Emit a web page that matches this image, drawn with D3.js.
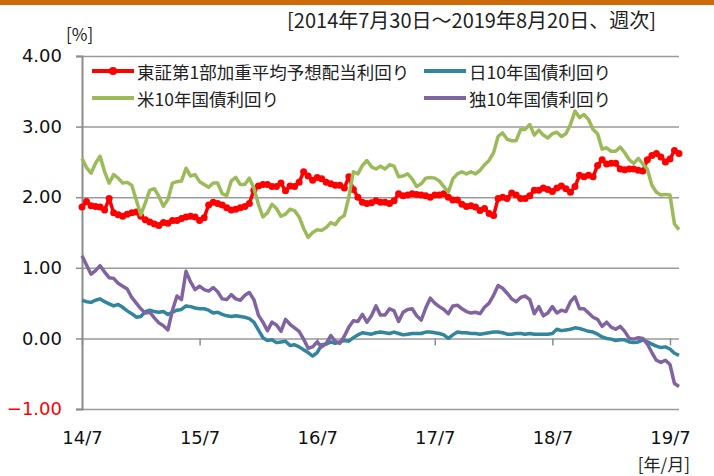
<!DOCTYPE html>
<html>
<head>
<meta charset="utf-8">
<script src="https://cdn.jsdelivr.net/npm/d3@7"></script>
<style>
  body { margin: 0; background: #fff; }
  svg { display: block; }
</style>
</head>
<body>
<div id="chart"></div>
<script>
// values every other week, first point 2014/7/30
var startDate = "2014-07-30";
var stepDays = 14;

var tickDates = ["2014-07-30", "2015-07-29", "2016-07-27", "2017-07-26", "2018-07-25", "2019-07-24"];
var tickLabels = ["14/7", "15/7", "16/7", "17/7", "18/7", "19/7"];
var yTicks = [4, 3, 2, 1, 0, -1];

var seriesNames = ["東証第1部加重平均予想配当利回り", "日10年国債利回り", "米10年国債利回り", "独10年国債利回り"];

var topixYield = [1.86,1.94,1.88,1.87,1.86,1.82,1.98,1.78,1.75,1.73,
  1.76,1.78,1.79,1.73,1.68,1.65,1.62,1.60,1.64,1.63,
  1.67,1.67,1.70,1.72,1.73,1.72,1.67,1.71,1.89,1.93,
  1.91,1.89,1.85,1.82,1.83,1.85,1.87,1.91,2.10,2.16,
  2.18,2.18,2.15,2.15,2.20,2.09,2.16,2.15,2.21,2.36,
  2.30,2.24,2.28,2.26,2.21,2.19,2.17,2.17,2.13,2.29,
  2.11,2.00,1.93,1.91,1.92,1.95,1.93,1.93,1.91,1.95,
  2.05,2.02,2.03,2.05,2.04,2.03,2.02,2.00,2.03,2.03,
  2.05,2.00,1.96,1.96,1.90,1.87,1.88,1.86,1.81,1.84,
  1.77,1.74,1.98,2.00,1.98,2.06,2.03,1.98,1.98,2.02,
  2.10,2.10,2.13,2.11,2.08,2.13,2.16,2.12,2.07,2.15,
  2.31,2.29,2.31,2.29,2.45,2.53,2.47,2.48,2.48,2.40,
  2.39,2.40,2.40,2.38,2.37,2.53,2.59,2.62,2.57,2.50,
  2.54,2.66,2.62];

var jpYield = [0.54,0.52,0.51,0.54,0.56,0.52,0.49,0.46,0.48,0.44,
  0.39,0.35,0.30,0.31,0.38,0.40,0.38,0.37,0.38,0.34,
  0.37,0.40,0.41,0.46,0.45,0.43,0.42,0.42,0.40,0.36,
  0.37,0.34,0.32,0.31,0.32,0.31,0.30,0.28,0.23,0.12,
  0.01,-0.03,-0.02,-0.06,-0.05,-0.04,-0.10,-0.09,-0.12,-0.16,
  -0.20,-0.25,-0.20,-0.09,-0.08,-0.05,-0.07,-0.05,-0.03,-0.04,
  0.01,0.05,0.08,0.07,0.06,0.08,0.09,0.08,0.07,0.09,
  0.07,0.05,0.06,0.07,0.07,0.07,0.09,0.09,0.08,0.07,
  0.05,0.00,0.05,0.09,0.08,0.08,0.07,0.07,0.06,0.07,
  0.08,0.09,0.09,0.08,0.06,0.06,0.07,0.07,0.06,0.07,
  0.06,0.06,0.06,0.06,0.07,0.13,0.11,0.12,0.13,0.15,
  0.14,0.12,0.10,0.09,0.06,0.02,0.00,-0.01,-0.03,-0.02,
  -0.02,-0.05,-0.06,-0.05,-0.02,-0.05,-0.08,-0.11,-0.13,-0.12,
  -0.15,-0.21,-0.24];

var usYield = [2.55,2.42,2.34,2.48,2.58,2.36,2.20,2.32,2.27,2.20,
  2.21,2.17,1.96,1.75,1.92,2.10,2.12,2.01,1.87,1.97,
  2.20,2.22,2.23,2.41,2.30,2.32,2.22,2.18,2.14,2.20,
  2.20,2.05,2.02,2.23,2.28,2.18,2.18,2.27,2.13,1.90,
  1.72,1.78,1.90,1.84,1.73,1.76,1.83,1.81,1.72,1.56,
  1.43,1.50,1.54,1.53,1.57,1.64,1.61,1.70,1.74,2.00,
  2.36,2.33,2.45,2.52,2.43,2.40,2.44,2.40,2.46,2.44,
  2.29,2.30,2.33,2.26,2.15,2.19,2.27,2.28,2.27,2.23,
  2.15,2.07,2.26,2.33,2.36,2.33,2.36,2.33,2.38,2.46,
  2.52,2.63,2.86,2.91,2.82,2.80,2.80,2.96,2.96,3.03,
  2.88,2.95,2.88,2.84,2.90,2.92,2.86,2.90,3.03,3.22,
  3.13,3.17,3.10,2.96,2.90,2.68,2.70,2.65,2.65,2.71,
  2.63,2.53,2.48,2.55,2.47,2.40,2.17,2.07,2.03,2.04,
  2.03,1.62,1.54];

var deYield = [1.17,1.04,0.91,0.96,1.03,0.94,0.86,0.85,0.78,0.74,
  0.70,0.58,0.50,0.42,0.36,0.37,0.29,0.22,0.18,0.12,
  0.40,0.60,0.55,0.95,0.80,0.69,0.74,0.69,0.67,0.72,
  0.66,0.56,0.55,0.62,0.56,0.54,0.61,0.65,0.55,0.33,
  0.23,0.11,0.23,0.19,0.10,0.27,0.20,0.15,0.10,-0.01,
  -0.14,-0.12,-0.05,-0.12,-0.07,0.04,-0.04,-0.07,0.03,0.16,
  0.25,0.24,0.34,0.23,0.32,0.46,0.33,0.33,0.42,0.39,
  0.24,0.37,0.41,0.42,0.32,0.26,0.43,0.57,0.50,0.45,
  0.41,0.35,0.46,0.47,0.42,0.38,0.36,0.37,0.35,0.44,
  0.50,0.61,0.75,0.71,0.64,0.56,0.52,0.58,0.60,0.55,
  0.35,0.45,0.32,0.36,0.45,0.36,0.40,0.38,0.52,0.59,
  0.42,0.42,0.36,0.30,0.27,0.17,0.23,0.16,0.13,0.17,
  0.10,0.00,-0.01,0.01,0.00,-0.08,-0.20,-0.31,-0.34,-0.31,
  -0.37,-0.64,-0.68];

var colors = ["#ff0000", "#31859c", "#9bbb59", "#8064a2"];

// dimensions
var W = 714, H = 476;
var margin = {top: 56, right: 35, bottom: 67, left: 82},
    width = W - margin.left - margin.right,
    height = H - margin.top - margin.bottom;

var parse = d3.timeParse("%Y-%m-%d");
var t0 = parse(startDate);
var dates = d3.range(topixYield.length).map(function(i) { return d3.timeDay.offset(t0, i * stepDays); });

var x = d3.scaleTime().domain([dates[0], dates[dates.length - 1]]).range([0, width]);
var y = d3.scaleLinear().domain([-1, 4]).range([height, 0]);

var svg = d3.select("#chart").append("svg")
    .attr("width", W).attr("height", H);

// orange bar on top
svg.append("rect").attr("x", 0).attr("y", 0).attr("width", W).attr("height", 5).attr("fill", "#cc6a0a");

svg.append("text").attr("x", 656).attr("y", 28).attr("text-anchor", "end")
    .style("font-family", "'Noto Sans CJK JP'").style("font-size", "20px").attr("fill", "#222")
    .text("[2014年7月30日～2019年8月20日、週次]");
svg.append("text").attr("x", 66).attr("y", 41)
    .style("font-family", "'Noto Sans CJK JP'").style("font-size", "17px").attr("fill", "#222")
    .text("[%]");
svg.append("text").attr("x", 690).attr("y", 471).attr("text-anchor", "end")
    .style("font-family", "'Noto Sans CJK JP'").style("font-size", "17px").attr("fill", "#222")
    .text("[年/月]");

var g = svg.append("g").attr("transform", "translate(" + margin.left + "," + margin.top + ")");

// gridlines
g.append("g").attr("class", "grid")
    .call(d3.axisLeft(y).tickValues(yTicks).tickSize(-width).tickFormat(""))
    .call(function(s) {
        s.select(".domain").remove();
        s.selectAll("line").attr("stroke", "#9a9a9a").attr("stroke-width", 1.5);
    });

// y axis
g.append("g")
    .call(d3.axisLeft(y).tickValues(yTicks).tickSize(6).tickPadding(14).tickFormat(d3.format(".2f")))
    .call(function(s) {
        s.select(".domain").attr("stroke", "#8c8c8c").attr("stroke-width", 2);
        s.selectAll("line").attr("stroke", "#8c8c8c").attr("stroke-width", 1.5);
        s.selectAll("text").style("font-family", "'DejaVu Sans'").style("font-size", "18px")
            .attr("fill", function(d) { return d < 0 ? "#ff0000" : "#111"; });
    });

// x axis ticks on the zero line
g.append("g").attr("transform", "translate(0," + y(0) + ")")
    .call(d3.axisBottom(x).tickValues(tickDates.map(parse)).tickSize(7).tickFormat(""))
    .call(function(s) {
        s.select(".domain").remove();
        s.selectAll("line").attr("stroke", "#8c8c8c").attr("stroke-width", 1.5);
    });

// x labels under the plot
g.append("g").attr("transform", "translate(0," + height + ")")
    .call(d3.axisBottom(x).tickValues(tickDates.map(parse)).tickSize(0).tickPadding(22)
        .tickFormat(function(d, i) { return tickLabels[i]; }))
    .call(function(s) {
        s.select(".domain").remove();
        s.selectAll("text").style("font-family", "'DejaVu Sans'").style("font-size", "18px").attr("fill", "#111");
    });

// lines
var allSeries = [topixYield, jpYield, usYield, deYield];
var line = d3.line()
    .x(function(d, i) { return x(dates[i]); })
    .y(function(d) { return y(d); });

allSeries.forEach(function(vals, k) {
    g.append("path").datum(vals)
        .attr("fill", "none")
        .attr("stroke", colors[k])
        .attr("stroke-width", 3.5)
        .attr("stroke-linejoin", "round")
        .attr("d", line);
    if (k === 0) {
        g.selectAll(".dot").data(vals).enter().append("circle")
            .attr("class", "dot")
            .attr("cx", function(d, i) { return x(dates[i]); })
            .attr("cy", function(d) { return y(d); })
            .attr("r", 3.5)
            .attr("fill", colors[0]);
    }
});

// legend
var legendPos = [[92, 71], [424, 71], [92, 98], [424, 98]];
seriesNames.forEach(function(name, k) {
    var p = legendPos[k];
    svg.append("line").attr("x1", p[0]).attr("x2", p[0] + 42).attr("y1", p[1]).attr("y2", p[1])
        .attr("stroke", colors[k]).attr("stroke-width", 4);
    if (k === 0) {
        svg.append("circle").attr("cx", p[0] + 21).attr("cy", p[1]).attr("r", 4).attr("fill", colors[0]);
    }
    svg.append("text").attr("x", p[0] + 45).attr("y", p[1])
        .attr("dominant-baseline", "central")
        .style("font-family", "'Noto Sans CJK JP'").style("font-size", "17.5px").attr("fill", "#222")
        .text(name);
});
</script>
</body>
</html>
